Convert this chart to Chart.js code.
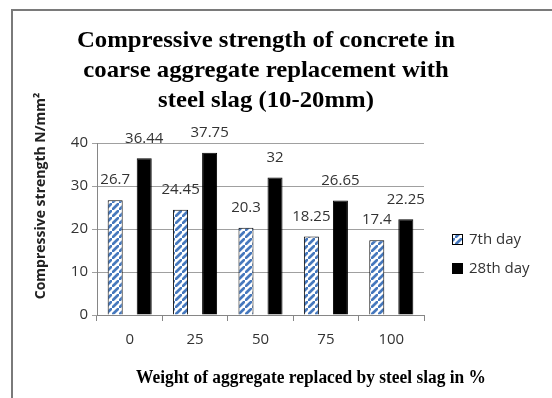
<!DOCTYPE html>
<html>
<head>
<meta charset="utf-8">
<script src="https://cdn.jsdelivr.net/npm/chart.js@4"></script>
<style>
  html, body { margin: 0; padding: 0; background: #fff; }
</style>
</head>
<body>
<canvas id="chart" width="552" height="398"></canvas>
<script>
const categories = ['0', '25', '50', '75', '100'];
const day7 = [26.7, 24.45, 20.3, 18.25, 17.4];
const day28 = [36.44, 37.75, 32, 26.65, 22.25];
const seriesLabels = ['7th day', '28th day'];
const yTicks = [0, 10, 20, 30, 40];
const titleLines = ['Compressive strength of concrete in', 'coarse aggregate replacement with', 'steel slag (10-20mm)'];
const xTitle = 'Weight of aggregate replaced by steel slag in %';
const yTitle = 'Compressive strength N/mm²';

const sansFont = '"Open Sans", sans-serif';
const serifFont = '"Liberation Serif", "Times New Roman", serif';

// blue diagonal hatch for the 7th day bars
function makeStripes() {
    const n = 7;
    const c = document.createElement('canvas');
    c.width = n; c.height = n;
    const g = c.getContext('2d');
    g.fillStyle = '#fff';
    g.fillRect(0, 0, n, n);
    g.strokeStyle = '#4678bd';
    g.lineWidth = 2.7;
    g.beginPath();
    g.moveTo(-2, n + 2); g.lineTo(n + 2, -2);
    g.moveTo(-n - 2, 2); g.lineTo(2, -n - 2);
    g.moveTo(n - 2, 2 * n + 2); g.lineTo(2 * n + 2, n - 2);
    g.stroke();
    return g.createPattern(c, 'repeat');
}

// the picture's serif text is a little wider than Times, so stretch it
function wideText(ctx, text, x, y, sx) {
    ctx.save();
    ctx.translate(x, y);
    ctx.scale(sx, 1);
    ctx.fillText(text, 0, 0);
    ctx.restore();
}

const decor = {
    id: 'decor',
    beforeDraw(chart) {
        const ctx = chart.ctx;
        ctx.save();
        ctx.strokeStyle = '#7a7a7a';
        ctx.lineWidth = 2;
        ctx.beginPath();
        ctx.moveTo(12, 398);
        ctx.lineTo(12, 10);
        ctx.lineTo(552, 10);
        ctx.stroke();
        ctx.restore();
    },
    afterDraw(chart) {
        const ctx = chart.ctx;
        ctx.save();

        // title
        ctx.fillStyle = '#000';
        ctx.textAlign = 'center';
        ctx.textBaseline = 'alphabetic';
        ctx.font = 'bold 23px ' + serifFont;
        const sx = 378 / ctx.measureText(titleLines[0]).width;
        titleLines.forEach((line, i) => wideText(ctx, line, 266, 47 + i * 30, sx));

        // x axis title
        ctx.font = 'bold 18px ' + serifFont;
        wideText(ctx, xTitle, 311, 383, 350 / ctx.measureText(xTitle).width);

        // y axis title
        ctx.save();
        ctx.translate(41, 196);
        ctx.rotate(-Math.PI / 2);
        ctx.textBaseline = 'middle';
        ctx.font = 'bold 14px ' + sansFont;
        ctx.fillStyle = '#222';
        ctx.fillText(yTitle, 0, 0);
        ctx.restore();

        // value labels above bars
        ctx.font = '15px ' + sansFont;
        ctx.fillStyle = '#333';
        ctx.textBaseline = 'middle';
        chart.data.datasets.forEach((ds, i) => {
            chart.getDatasetMeta(i).data.forEach((bar, j) => {
                ctx.fillText(String(ds.data[j]), bar.x, bar.y - 20);
            });
        });

        // legend
        ctx.textAlign = 'left';
        chart.data.datasets.forEach((ds, i) => {
            const y = 240 + i * 29;
            ctx.fillStyle = ds.backgroundColor;
            ctx.fillRect(452, y - 6, 11, 11);
            ctx.strokeStyle = ds.borderColor;
            ctx.lineWidth = 1;
            ctx.strokeRect(452.5, y - 5.5, 10, 10);
            ctx.fillStyle = '#333';
            ctx.fillText(ds.label, 469, y);
        });

        ctx.restore();
    }
};

new Chart(document.getElementById('chart'), {
    type: 'bar',
    data: {
        labels: categories,
        datasets: [{
            label: seriesLabels[0],
            data: day7,
            backgroundColor: makeStripes(),
            borderColor: '#000',
            borderWidth: 1
        }, {
            label: seriesLabels[1],
            data: day28,
            backgroundColor: '#000',
            borderColor: '#000',
            borderWidth: 1
        }]
    },
    options: {
        responsive: false,
        animation: false,
        devicePixelRatio: 1,
        categoryPercentage: 0.888,
        barPercentage: 0.517,
        layout: { padding: { top: 143, right: 128, bottom: 0, left: 0 } },
        plugins: {
            legend: { display: false },
            title: { display: false },
            tooltip: { enabled: false }
        },
        scales: {
            x: {
                grid: { drawOnChartArea: false, tickLength: 6, color: '#868686' },
                border: { color: '#868686' },
                ticks: { font: { family: sansFont, size: 15 }, color: '#333', padding: 10 },
                afterFit: s => { s.height = 83; }
            },
            y: {
                min: 0,
                max: 40,
                afterBuildTicks: s => { s.ticks = yTicks.map(v => ({ value: v })); },
                grid: { color: '#a0a0a0', tickLength: 5 },
                border: { color: '#868686' },
                ticks: { font: { family: sansFont, size: 15 }, color: '#333', padding: 4 },
                afterFit: s => { s.width = 97; }
            }
        }
    },
    plugins: [decor]
});
</script>
</body>
</html>
